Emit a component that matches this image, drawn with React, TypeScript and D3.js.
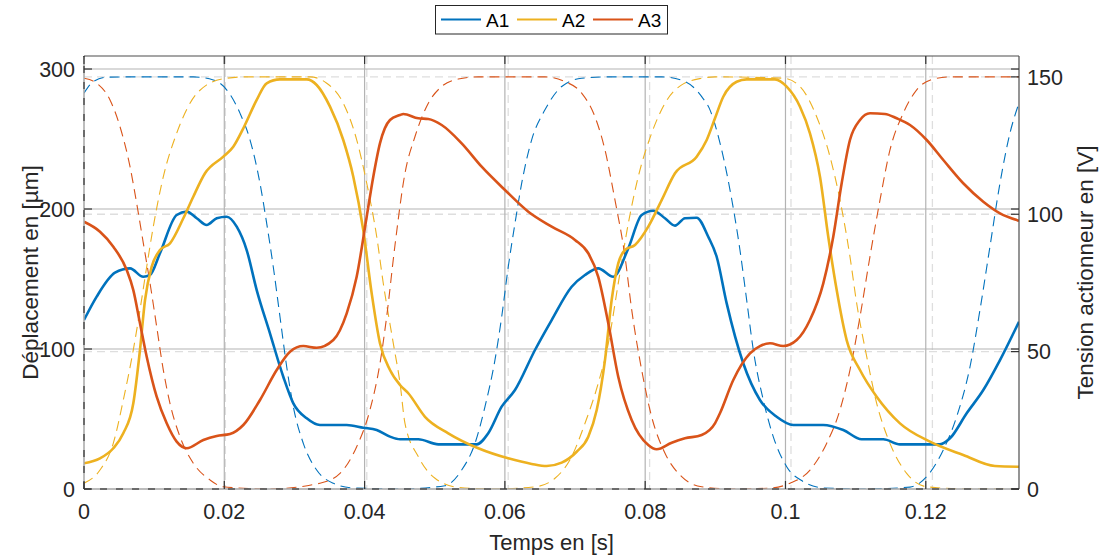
import React from "react";
import * as d3 from "d3";

// ---------- Data (time in ms) ----------
// Displacement [µm] (left axis)
const tDispA1 = [0, 1.81, 4.42, 6.56, 8.45, 9.41, 10.83, 13.21, 14.64, 16.07, 17.49, 18.92, 20.34, 21.77, 23.19, 24.62, 26.51, 28.41, 29.84, 31.75, 33.64, 37.45, 39.81, 41.72, 43.62, 45.05, 47.65, 50.51, 55.98, 57.63, 59.54, 61.44, 64.29, 66.67, 69.52, 71.42, 73.31, 75.45, 77.59, 79.5, 81.15, 82.82, 84.25, 85.67, 87.34, 88.99, 90.19, 91.62, 93.98, 96.36, 98.74, 101.11, 105.39, 108.24, 110.86, 113.94, 116.32, 122.02, 123.45, 125.83, 128.2, 130.58, 133.29];
const dispA1 = [120.7, 137.4, 154.5, 157.6, 151.6, 152.9, 168.4, 195.7, 198.1, 193.4, 188.6, 193.4, 194.5, 187.4, 170.7, 142.1, 111.2, 80.2, 61.2, 50.5, 45.7, 45.7, 43.8, 42.1, 37.4, 35.5, 35.5, 31.9, 31.9, 39.8, 58.8, 70.7, 99.3, 120.7, 144.5, 152.9, 157.6, 151.6, 171.9, 195.7, 198.8, 193.4, 188.1, 193.4, 193.8, 180.2, 165.9, 132.6, 89.8, 63.6, 51.6, 45.7, 45.7, 42.1, 35.5, 35.5, 31.9, 31.9, 36.2, 54.1, 70.7, 92.1, 119.5];

const tDispA2 = [0, 2.28, 4.18, 5.6, 7.03, 7.98, 8.7, 9.65, 10.83, 12.26, 14.16, 15.58, 17.25, 19.86, 21.28, 22.71, 24.62, 26.04, 27.94, 31.75, 33.17, 35.07, 36.96, 38.39, 39.81, 41.01, 42.19, 43.62, 45.05, 46.23, 48.61, 51.93, 56.21, 60.48, 63.82, 65.96, 68.1, 70.23, 71.89, 73.09, 74.27, 75.22, 76.16, 77.12, 78.55, 80.44, 82.35, 84.25, 87.34, 88.77, 89.95, 91.13, 93.04, 94.47, 98.5, 100.17, 102.07, 103.49, 104.92, 106.1, 107.3, 108.72, 110.62, 113.0, 116.32, 120.6, 125.34, 129.86, 133.29];
const dispA2 = [18.4, 21.9, 29.1, 39.8, 61.2, 99.3, 135, 158.8, 170.7, 175.5, 193.4, 208.8, 225.5, 237.4, 244.5, 257.6, 277.9, 289.8, 292.6, 292.6, 288.6, 273.1, 249.3, 223.1, 185, 139.8, 104.1, 85, 74.3, 68.4, 51.6, 39.8, 29.1, 21.9, 17.9, 16.4, 18.8, 26.6, 37.4, 56.4, 92.1, 135, 161.2, 170.7, 174.3, 187.4, 206.4, 225.5, 237.4, 249.3, 264.8, 280.2, 290.9, 292.6, 292.6, 287.4, 273.1, 254.1, 223.1, 180.2, 142.1, 106.4, 85, 65.9, 46.9, 33.8, 24.3, 16.4, 15.9];

const tDispA3 = [0, 2.28, 4.18, 6.09, 7.03, 7.98, 8.94, 10.36, 11.79, 13.21, 14.64, 17.01, 18.92, 20.81, 22.71, 25.09, 27.47, 29.37, 31.26, 33.17, 35.54, 37.45, 38.87, 40.3, 41.24, 42.19, 43.62, 45.05, 45.52, 47.65, 49.08, 50.99, 53.84, 56.69, 60.01, 63.34, 66.67, 69.99, 71.89, 73.31, 74.74, 76.16, 78.07, 80.44, 81.64, 83.78, 85.67, 88.05, 89.95, 90.66, 92.56, 94.94, 96.36, 97.79, 99.69, 101.6, 103.49, 105.39, 106.81, 108.01, 109.19, 110.62, 112.05, 114.18, 115.85, 117.75, 120.13, 122.5, 125.34, 128.2, 130.58, 133.29];
const dispA3 = [190.9, 183.8, 173.1, 156.4, 142.1, 118.4, 94.5, 65.9, 46.9, 33.8, 29.1, 35, 37.9, 39.3, 45.7, 63.6, 85, 98.1, 102.1, 100.9, 106.4, 125.5, 151.6, 194.5, 223.1, 246.9, 263.6, 267.1, 267.9, 264.8, 264.3, 260, 246.9, 230.2, 213.6, 198.1, 187.4, 177.9, 168.4, 151.6, 118.4, 80.2, 49.3, 31.4, 28.4, 33.1, 36.2, 38.6, 46.9, 54.1, 77.9, 96.9, 102.1, 104.1, 102.1, 106.4, 120.7, 146.9, 180.2, 218.4, 249.3, 263.6, 268.4, 267.9, 264.8, 260, 249.3, 235, 218.4, 205.2, 196.9, 191.6];

// Actuator voltage [V] (right axis)
const tVoltA1 = [0, 1.32, 3.21, 6.51, 15.46, 18.29, 20.18, 22.06, 23.48, 24.89, 25.84, 26.77, 27.72, 28.67, 29.6, 31.02, 32.91, 35.26, 38.09, 45.0, 51.06, 53.42, 55.3, 56.72, 58.13, 59.08, 60.01, 60.96, 61.91, 63.32, 65.2, 67.57, 70.39, 74.16, 81.71, 85.01, 87.37, 88.54, 89.96, 91.37, 92.78, 93.73, 94.67, 96.08, 97.5, 99.39, 101.74, 104.57, 110.0, 116.83, 119.19, 121.54, 123.43, 125.32, 126.73, 128.14, 129.56, 130.97, 132.25];
const voltA1 = [144.1, 148.3, 149.9, 150, 150, 148.9, 145.3, 136.8, 127.1, 111.3, 96.7, 80.9, 62.7, 44.5, 30.0, 16.6, 6.9, 2.1, 0.4, 0, 1.2, 6.9, 16.6, 30.0, 47.0, 62.7, 80.9, 96.7, 111.3, 127.1, 138.0, 146.5, 149.5, 150, 150, 148.3, 142.8, 138.0, 125.9, 108.9, 87.0, 68.8, 50.6, 32.4, 19.0, 8.1, 2.7, 0.4, 0, 0.7, 4.5, 14.2, 26.3, 44.5, 65.2, 88.2, 111.3, 129.5, 140.5];

const tVoltA2 = [0, 2.26, 4.14, 5.56, 6.97, 7.92, 8.87, 9.8, 11.22, 13.11, 14.99, 17.36, 20.18, 23.01, 31.97, 34.33, 36.68, 38.57, 39.99, 41.4, 42.33, 43.75, 44.7, 45.4, 47.28, 49.65, 52.94, 58.0, 63.79, 66.62, 68.98, 70.86, 72.74, 74.16, 75.57, 76.99, 78.4, 80.29, 82.18, 84.54, 87.37, 89.25, 98.91, 101.27, 103.63, 105.51, 106.93, 108.34, 109.29, 110.71, 112.12, 114.0, 116.36, 119.19, 125.0, 132.25];
const voltA2 = [2.1, 6.9, 16.6, 32.4, 50.6, 65.2, 80.9, 95.5, 113.7, 129.5, 140.4, 147.1, 149.5, 150, 150, 147.7, 140.4, 127.1, 111.3, 91.9, 74.9, 53.0, 38.5, 23.9, 11.8, 3.9, 0.6, 0, 0.8, 3.9, 11.8, 23.9, 38.5, 53.0, 74.9, 96.7, 113.7, 129.5, 140.4, 147.1, 149.5, 150, 149.5, 146.5, 135.5, 121.0, 105.2, 84.6, 67.6, 48.2, 31.2, 16.6, 5.7, 0.8, 0, 0];

const tVoltA3 = [0, 1.8, 3.68, 5.09, 6.51, 7.45, 8.39, 9.34, 10.28, 11.22, 12.16, 13.58, 15.46, 17.82, 19.7, 26.0, 33.38, 36.21, 38.57, 40.45, 41.87, 42.81, 43.99, 45.4, 46.82, 48.7, 50.59, 52.94, 55.77, 65.2, 68.03, 70.39, 72.27, 73.69, 75.1, 76.52, 77.47, 78.88, 80.29, 82.18, 84.54, 87.37, 92.0, 97.03, 99.86, 102.69, 105.04, 106.93, 108.34, 109.76, 111.17, 112.59, 114.0, 115.88, 117.78, 120.13, 122.49, 132.25];
const voltA3 = [149.5, 147.7, 141.6, 131.9, 117.3, 104.0, 89.5, 74.9, 59.1, 43.3, 31.2, 19.0, 9.4, 3.3, 0.8, 0, 2.1, 5.7, 15.4, 28.8, 45.8, 62.7, 88.8, 114.9, 128.3, 140.4, 146.5, 149.2, 150, 150, 148.3, 144.1, 135.5, 123.4, 105.2, 84.6, 65.2, 43.3, 26.3, 13.0, 4.5, 0.8, 0, 0.3, 2.1, 6.9, 16.6, 28.8, 43.3, 62.7, 84.6, 105.2, 123.4, 136.8, 145.3, 149.2, 150, 150];

const xTicks = [0, 20, 40, 60, 80, 100, 120];
const xTickLabels = ["0", "0.02", "0.04", "0.06", "0.08", "0.1", "0.12"];
const yLeftTicks = [0, 100, 200, 300];
const yRightTicks = [0, 50, 100, 150];
const seriesNames = ["A1", "A2", "A3"];
const colors = ["#0072BD", "#EDB120", "#D95319"];

const W = 1099;
const H = 558;
const L = 84, R = 1019, T = 56, B = 489;
const FONT = "Arial, 'Liberation Sans', Helvetica, sans-serif";
const TXT = "#262626";

export default function App() {
  const x1 = d3.scaleLinear().domain([0, 133.29]).range([L, R]);
  const x2 = d3.scaleLinear().domain([0, 132.25]).range([L, R]);
  const y1 = d3.scaleLinear().domain([0, 309.3]).range([B, T]);
  const y2 = d3.scaleLinear().domain([0, 157.6]).range([B, T]);

  const mk = (xs: d3.ScaleLinear<number, number>, ys: d3.ScaleLinear<number, number>, t: number[], v: number[]) =>
    d3
      .line<number>()
      .x((_, i) => xs(t[i]))
      .y((d) => ys(d))
      .curve(d3.curveMonotoneX)(v) || "";

  const disp = [
    mk(x1, y1, tDispA1, dispA1),
    mk(x1, y1, tDispA2, dispA2),
    mk(x1, y1, tDispA3, dispA3),
  ];
  const volt = [
    mk(x2, y2, tVoltA1, voltA1),
    mk(x2, y2, tVoltA2, voltA2),
    mk(x2, y2, tVoltA3, voltA3),
  ];

  const tickLen = 8;

  return (
    <svg width={W} height={H} style={{ position: "absolute", left: 0, top: 0, background: "#fff" }} fontFamily={FONT}>
      <defs>
        <clipPath id="plot">
          <rect x={L} y={T} width={R - L} height={B - T} />
        </clipPath>
      </defs>
      <rect x={0} y={0} width={W} height={H} fill="#fff" />

      {/* ax2 dashed grid */}
      <g stroke="#dedede" strokeWidth={1.3} strokeDasharray="8,5" fill="none">
        {xTicks.filter((t) => t > 0).map((t) => (
          <line key={"gx2" + t} x1={x2(t)} x2={x2(t)} y1={T} y2={B} />
        ))}
        {yRightTicks.filter((t) => t > 0).map((t) => (
          <line key={"gy2" + t} x1={L} x2={R} y1={y2(t)} y2={y2(t)} />
        ))}
      </g>
      {/* ax1 solid grid */}
      <g stroke="#b3b3b3" strokeWidth={1.2} fill="none">
        {xTicks.filter((t) => t > 0).map((t) => (
          <line key={"gx1" + t} x1={x1(t)} x2={x1(t)} y1={T} y2={B} />
        ))}
        {yLeftTicks.filter((t) => t > 0).map((t) => (
          <line key={"gy1" + t} x1={L} x2={R} y1={y1(t)} y2={y1(t)} />
        ))}
      </g>

      {/* voltage dashed lines */}
      <g clipPath="url(#plot)" fill="none">
        {volt.map((d, i) => (
          <path key={"v" + i} d={d} stroke={colors[i]} strokeWidth={1.1} strokeDasharray="10,6" />
        ))}
      </g>
      {/* displacement solid lines */}
      <g clipPath="url(#plot)" fill="none">
        {disp.map((d, i) => (
          <path key={"d" + i} d={d} stroke={colors[i]} strokeWidth={2.6} strokeLinejoin="round" />
        ))}
      </g>

      {/* spines */}
      <line x1={L} x2={R} y1={T} y2={T} stroke="#4d4d4d" strokeWidth={1.2} />
      <line x1={R} x2={R} y1={T} y2={B} stroke="#4d4d4d" strokeWidth={1.2} />
      <line x1={L} x2={R} y1={B} y2={B} stroke="#a6a6a6" strokeWidth={1.5} />
      <line x1={L} x2={L} y1={T} y2={B} stroke="#a6a6a6" strokeWidth={1.5} />
      <line x1={L} x2={R} y1={B} y2={B} stroke="#505050" strokeWidth={1.5} strokeDasharray="7,9" />
      <line x1={L} x2={L} y1={B} y2={T} stroke="#505050" strokeWidth={1.5} strokeDasharray="7,9" />

      {/* ticks */}
      <g stroke="#333" strokeWidth={1.2}>
        {xTicks.map((t) => (
          <g key={"xt" + t}>
            <line x1={x1(t)} x2={x1(t)} y1={B} y2={B - tickLen} />
            <line x1={x1(t)} x2={x1(t)} y1={T} y2={T + tickLen} />
          </g>
        ))}
        {yLeftTicks.map((t) => (
          <g key={"yt" + t}>
            <line x1={L} x2={L + tickLen} y1={y1(t)} y2={y1(t)} />
            <line x1={R} x2={R - tickLen} y1={y1(t)} y2={y1(t)} />
          </g>
        ))}
        {yRightTicks.map((t) => (
          <line key={"yr" + t} x1={R} x2={R - tickLen} y1={y2(t)} y2={y2(t)} />
        ))}
      </g>

      {/* tick labels */}
      <g fill={TXT} fontSize={21.5}>
        {xTicks.map((t, i) => (
          <text key={"xl" + t} x={x1(t)} y={519} textAnchor="middle">
            {xTickLabels[i]}
          </text>
        ))}
        {yLeftTicks.map((t) => (
          <text key={"yl" + t} x={75} y={y1(t) + 7.7} textAnchor="end">
            {t}
          </text>
        ))}
        {yRightTicks.map((t) => (
          <text key={"yrl" + t} x={1027} y={y2(t) + 7.7} textAnchor="start">
            {t}
          </text>
        ))}
      </g>

      {/* axis titles */}
      <text x={(L + R) / 2} y={550} textAnchor="middle" fill={TXT} fontSize={22}>
        Temps en [s]
      </text>
      <text transform={`translate(38,${(T + B) / 2}) rotate(-90)`} textAnchor="middle" fill={TXT} fontSize={22.5}>
        Déplacement en [µm]
      </text>
      <text transform={`translate(1093,${(T + B) / 2}) rotate(-90)`} textAnchor="middle" fill={TXT} fontSize={22.5}>
        Tension actionneur en [V]
      </text>

      {/* legend */}
      <g>
        <rect x={435.5} y={5.5} width={232} height={28.5} fill="#fff" stroke="#262626" strokeWidth={1} />
        {seriesNames.map((n, i) => {
          const x0 = 441 + i * 76;
          return (
            <g key={n}>
              <line x1={x0} x2={x0 + 40} y1={19.5} y2={19.5} stroke={colors[i]} strokeWidth={2.2} />
              <text x={x0 + 45} y={26.5} fill="#000" fontSize={19}>
                {n}
              </text>
            </g>
          );
        })}
      </g>
    </svg>
  );
}
